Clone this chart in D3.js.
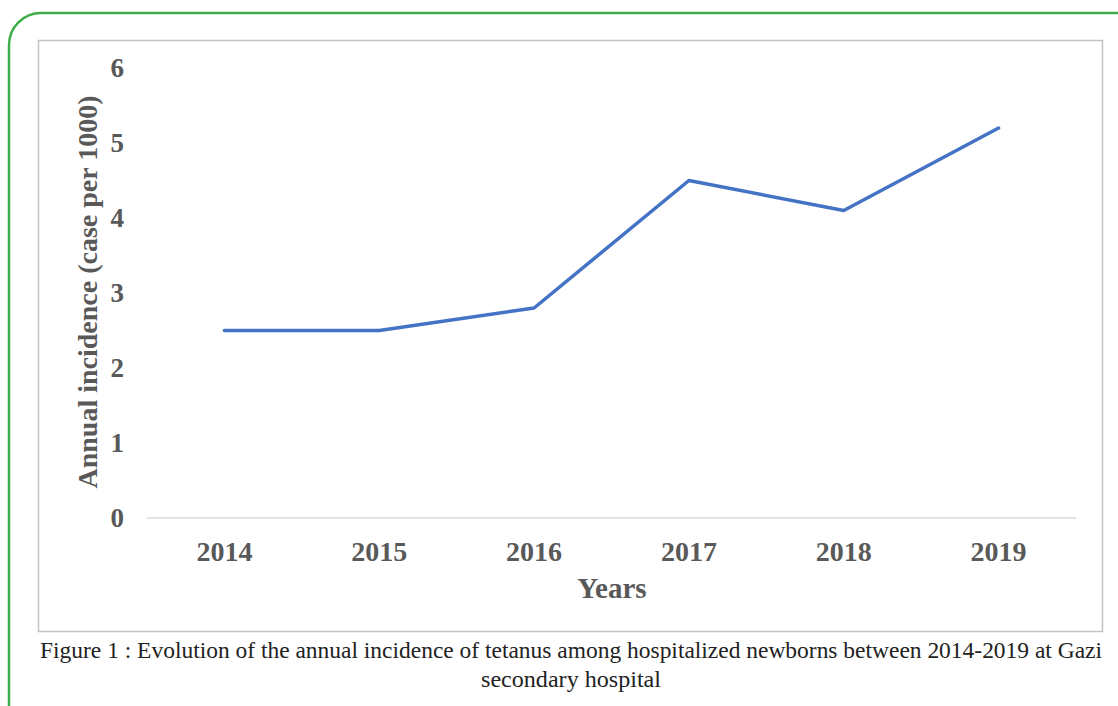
<!DOCTYPE html>
<html>
<head>
<meta charset="utf-8">
<script src="https://cdn.jsdelivr.net/npm/d3@7"></script>
<style>
  body { margin: 0; background: #fff; }
  svg { display: block; }
</style>
</head>
<body>
<svg id="chart" width="1118" height="706"></svg>
<script>
// data
const years = ['2014', '2015', '2016', '2017', '2018', '2019']
const incidence = [2.5, 2.5, 2.8, 4.5, 4.1, 5.2]
const yTicks = [0, 1, 2, 3, 4, 5, 6]

const svg = d3.select('#chart')
const serif = '"Liberation Serif", "Times New Roman", serif'
const grey = '#595959'

// green card frame
svg.append('rect')
  .attr('x', 9).attr('y', 13)
  .attr('width', 1140).attr('height', 740)
  .attr('rx', 32).attr('ry', 32)
  .attr('fill', 'none')
  .attr('stroke', '#3fae4a')
  .attr('stroke-width', 2.5)

// grey chart box
svg.append('rect')
  .attr('x', 38.5).attr('y', 40.5)
  .attr('width', 1064).attr('height', 591)
  .attr('fill', '#fff')
  .attr('stroke', '#c4c4c4')
  .attr('stroke-width', 1.5)

const margin = {left: 147, right: 1076, top: 68, bottom: 518}

const x = d3.scalePoint()
  .domain(years)
  .range([margin.left, margin.right])
  .padding(0.5)

const y = d3.scaleLinear()
  .domain([0, 6])
  .range([margin.bottom, margin.top])

// baseline
svg.append('line')
  .attr('x1', margin.left).attr('x2', margin.right)
  .attr('y1', y(0)).attr('y2', y(0))
  .attr('stroke', '#d9d9d9')
  .attr('stroke-width', 1.3)

// y tick labels
svg.selectAll('.ytick')
  .data(yTicks)
  .enter()
  .append('text')
  .attr('class', 'ytick')
  .attr('x', 124)
  .attr('y', d => y(d) + 9)
  .attr('text-anchor', 'end')
  .attr('font-family', serif)
  .attr('font-weight', 'bold')
  .attr('font-size', 27)
  .attr('fill', grey)
  .text(d => d)

// x tick labels
svg.selectAll('.xtick')
  .data(years)
  .enter()
  .append('text')
  .attr('class', 'xtick')
  .attr('x', d => x(d))
  .attr('y', 561)
  .attr('text-anchor', 'middle')
  .attr('font-family', serif)
  .attr('font-weight', 'bold')
  .attr('font-size', 28)
  .attr('fill', grey)
  .text(d => d)

// axis titles
svg.append('text')
  .attr('x', 612)
  .attr('y', 598)
  .attr('text-anchor', 'middle')
  .attr('font-family', serif)
  .attr('font-weight', 'bold')
  .attr('font-size', 29)
  .attr('fill', grey)
  .text('Years')

svg.append('text')
  .attr('transform', 'translate(97, 292) rotate(-90)')
  .attr('text-anchor', 'middle')
  .attr('font-family', serif)
  .attr('font-weight', 'bold')
  .attr('font-size', 28)
  .attr('fill', grey)
  .text('Annual incidence (case per 1000)')

// the line
const line = d3.line()
  .x((d, i) => x(years[i]))
  .y(d => y(d))

svg.append('path')
  .datum(incidence)
  .attr('d', line)
  .attr('fill', 'none')
  .attr('stroke', '#4472c4')
  .attr('stroke-width', 3.5)
  .attr('stroke-linejoin', 'round')
  .attr('stroke-linecap', 'round')

// caption: a narrow serif look, glyphs stretched taller
const captionLines = [
  {text: 'Figure 1 : Evolution of the annual incidence of tetanus among hospitalized newborns between 2014-2019 at Gazi', y: 658, w: 1062},
  {text: 'secondary hospital', y: 687, w: 180}
]
svg.selectAll('.caption')
  .data(captionLines)
  .enter()
  .append('text')
  .attr('class', 'caption')
  .attr('transform', d => `translate(571, ${d.y}) scale(1, 1.2)`)
  .attr('text-anchor', 'middle')
  .attr('font-family', serif)
  .attr('font-size', 20)
  .attr('fill', '#222')
  .attr('textLength', d => d.w)
  .attr('lengthAdjust', 'spacingAndGlyphs')
  .text(d => d.text)
</script>
</body>
</html>
